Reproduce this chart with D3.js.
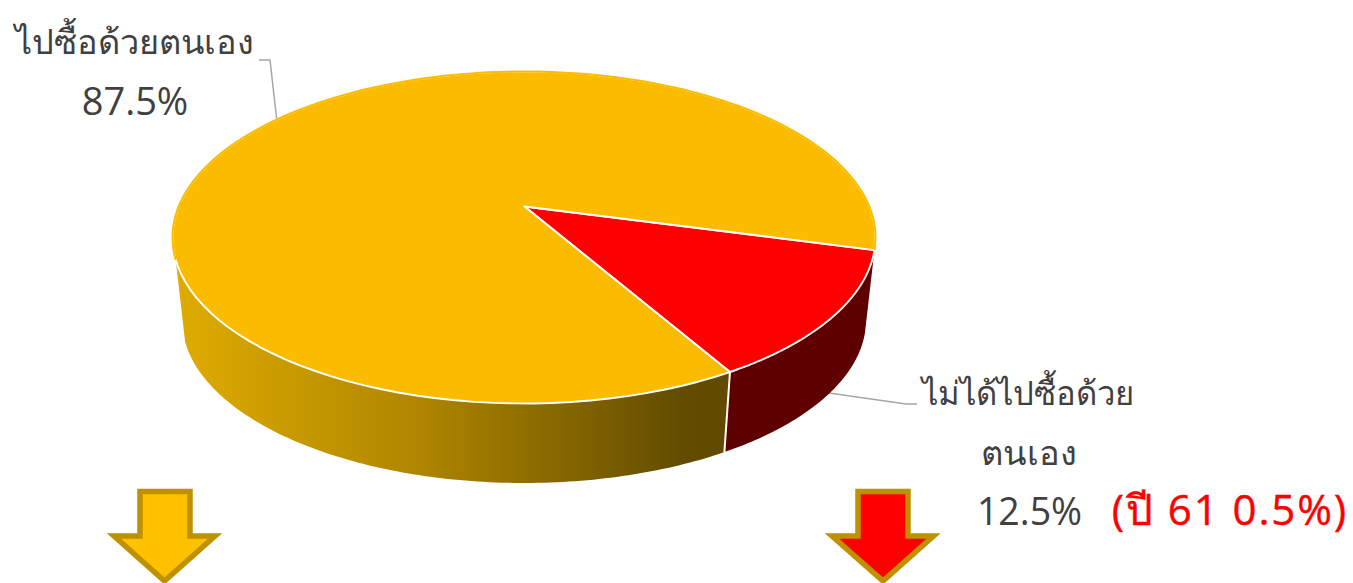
<!DOCTYPE html>
<html><head><meta charset="utf-8">
<script src="https://cdn.jsdelivr.net/npm/d3@7/dist/d3.min.js"></script>
<style>html,body{margin:0;padding:0;background:#fff;overflow:hidden}svg{display:block}
text{font-family:"Open Sans","Noto Sans",sans-serif;fill:#404040}</style>
</head><body><svg id="c" width="1353" height="583"></svg>
<script>
const categories = ["ไม่ได้ไปซื้อด้วยตนเอง", "ไปซื้อด้วยตนเอง"];
const values = [12.5, 87.5];
const sliceColors = ["#ff0000", "#fbbc00"];
const percentLabels = ["12.5%", "87.5%"];
const noteLabel = "(ปี 61 0.5%)";

const svg = d3.select("#c");
const deg = Math.PI / 180;
const defs = svg.append("defs");
const g = defs.append("linearGradient").attr("id","wallY").attr("gradientUnits","userSpaceOnUse")
  .attr("x1",175).attr("x2",725).attr("y1",0).attr("y2",0);
g.append("stop").attr("offset",0).attr("stop-color","#dfac00");
g.append("stop").attr("offset",0.45).attr("stop-color","#ae8500");
g.append("stop").attr("offset",0.92).attr("stop-color","#634c00");
g.append("stop").attr("offset",1).attr("stop-color","#624b00");

const pie = d3.pie().sort(null).value(d => d).startAngle(105*deg).endAngle((105+360)*deg);
const arcs = pie(values);

// perspective disc: angle measured clockwise from 12 o'clock
const tilt = -31/166;
function disc(cx, cy, rx, ry){
  const A = rx*Math.sqrt(1-tilt*tilt), C = tilt*ry;
  return a => {
    const u = Math.sin(a), v = -Math.cos(a), w = 1+tilt*v;
    return [cx + A*u/w, cy + (ry*v+C)/w];
  };
}
const topFace = disc(524,237.5,351.5,166), bottomFace = disc(524,320,342,163);
const apex = [524.5, 237.5 + tilt*166];
const line = d3.line();
const angles = (a0,a1) => d3.range(0,121).map(i => a0+(a1-a0)*i/120);

// leader lines
const leaders = svg.append("g").attr("fill","none").attr("stroke","#a6a6a6").attr("stroke-width",1.5);
leaders.append("path").attr("d",line([[259,60],[270,60],[277,122]]));
leaders.append("path").attr("d",line([[815,391],[906,404],[917,404]]));

// walls
const wallEnd = 251.7*deg;
function wall(a0,a1,fill){
  const as = angles(a0,a1);
  svg.append("path").attr("d", line(as.map(topFace).concat(as.slice().reverse().map(bottomFace)))+"Z")
    .attr("fill",fill);
}
wall(arcs[0].startAngle, arcs[0].endAngle, "#5f0000");
wall(arcs[1].startAngle, wallEnd, "url(#wallY)");
const divider = arcs[0].endAngle;
svg.append("path").attr("d",line([topFace(divider),bottomFace(divider)])).attr("stroke","#fff").attr("stroke-width",2).attr("fill","none");

// top face
arcs.forEach((d,i)=>{
  const pts = [apex].concat(angles(d.startAngle,d.endAngle).map(topFace));
  svg.append("path").attr("d",line(pts)+"Z").attr("fill",sliceColors[i])
    .attr("stroke","#fff").attr("stroke-width",1.9).attr("stroke-linejoin","round");
});
// no white rim along the back of the top face
const backArc = angles(wallEnd, arcs[0].startAngle+2*Math.PI).map(topFace);
svg.append("path").attr("d",line(backArc)).attr("fill","none").attr("stroke","#fbbc00").attr("stroke-width",2);

// labels
const T=(s,x,y,anchor,size,col)=>svg.append("text").text(s).attr("x",x).attr("y",y)
  .attr("text-anchor",anchor).attr("font-size",size).style("fill",col||"#404040");
T(categories[1],134,54,"middle",34.3);
T(percentLabels[1],135,115,"middle",38);
T("ไม่ได้ไปซื้อด้วย",1027.5,405,"middle",32.8);
T("ตนเอง",1029,465,"middle",34.4);
T(percentLabels[0],1029.5,525,"middle",37.5);
T(noteLabel,1230,525,"middle",42,"#ff0000").style("letter-spacing","1.9px").style("stroke","#ff0000").style("stroke-width","0.4px");

// arrows
const arrow = d3.line();
function down(x0,x1,sx0,sx1,xt,fill){
  const yt=491.5,ys=536,yb=581;
  svg.append("path").attr("d",arrow([[sx0,yt],[sx1,yt],[sx1,ys],[x1,ys],[xt,yb],[x0,ys],[sx0,ys]])+"Z")
    .attr("fill",fill).attr("stroke","#bf9000").attr("stroke-width",5.5).attr("stroke-linejoin","miter");
}
down(114,215,140,190,164.5,"#ffc000");
down(832,933.5,858,908,883,"#ff0000");
</script></body></html>
